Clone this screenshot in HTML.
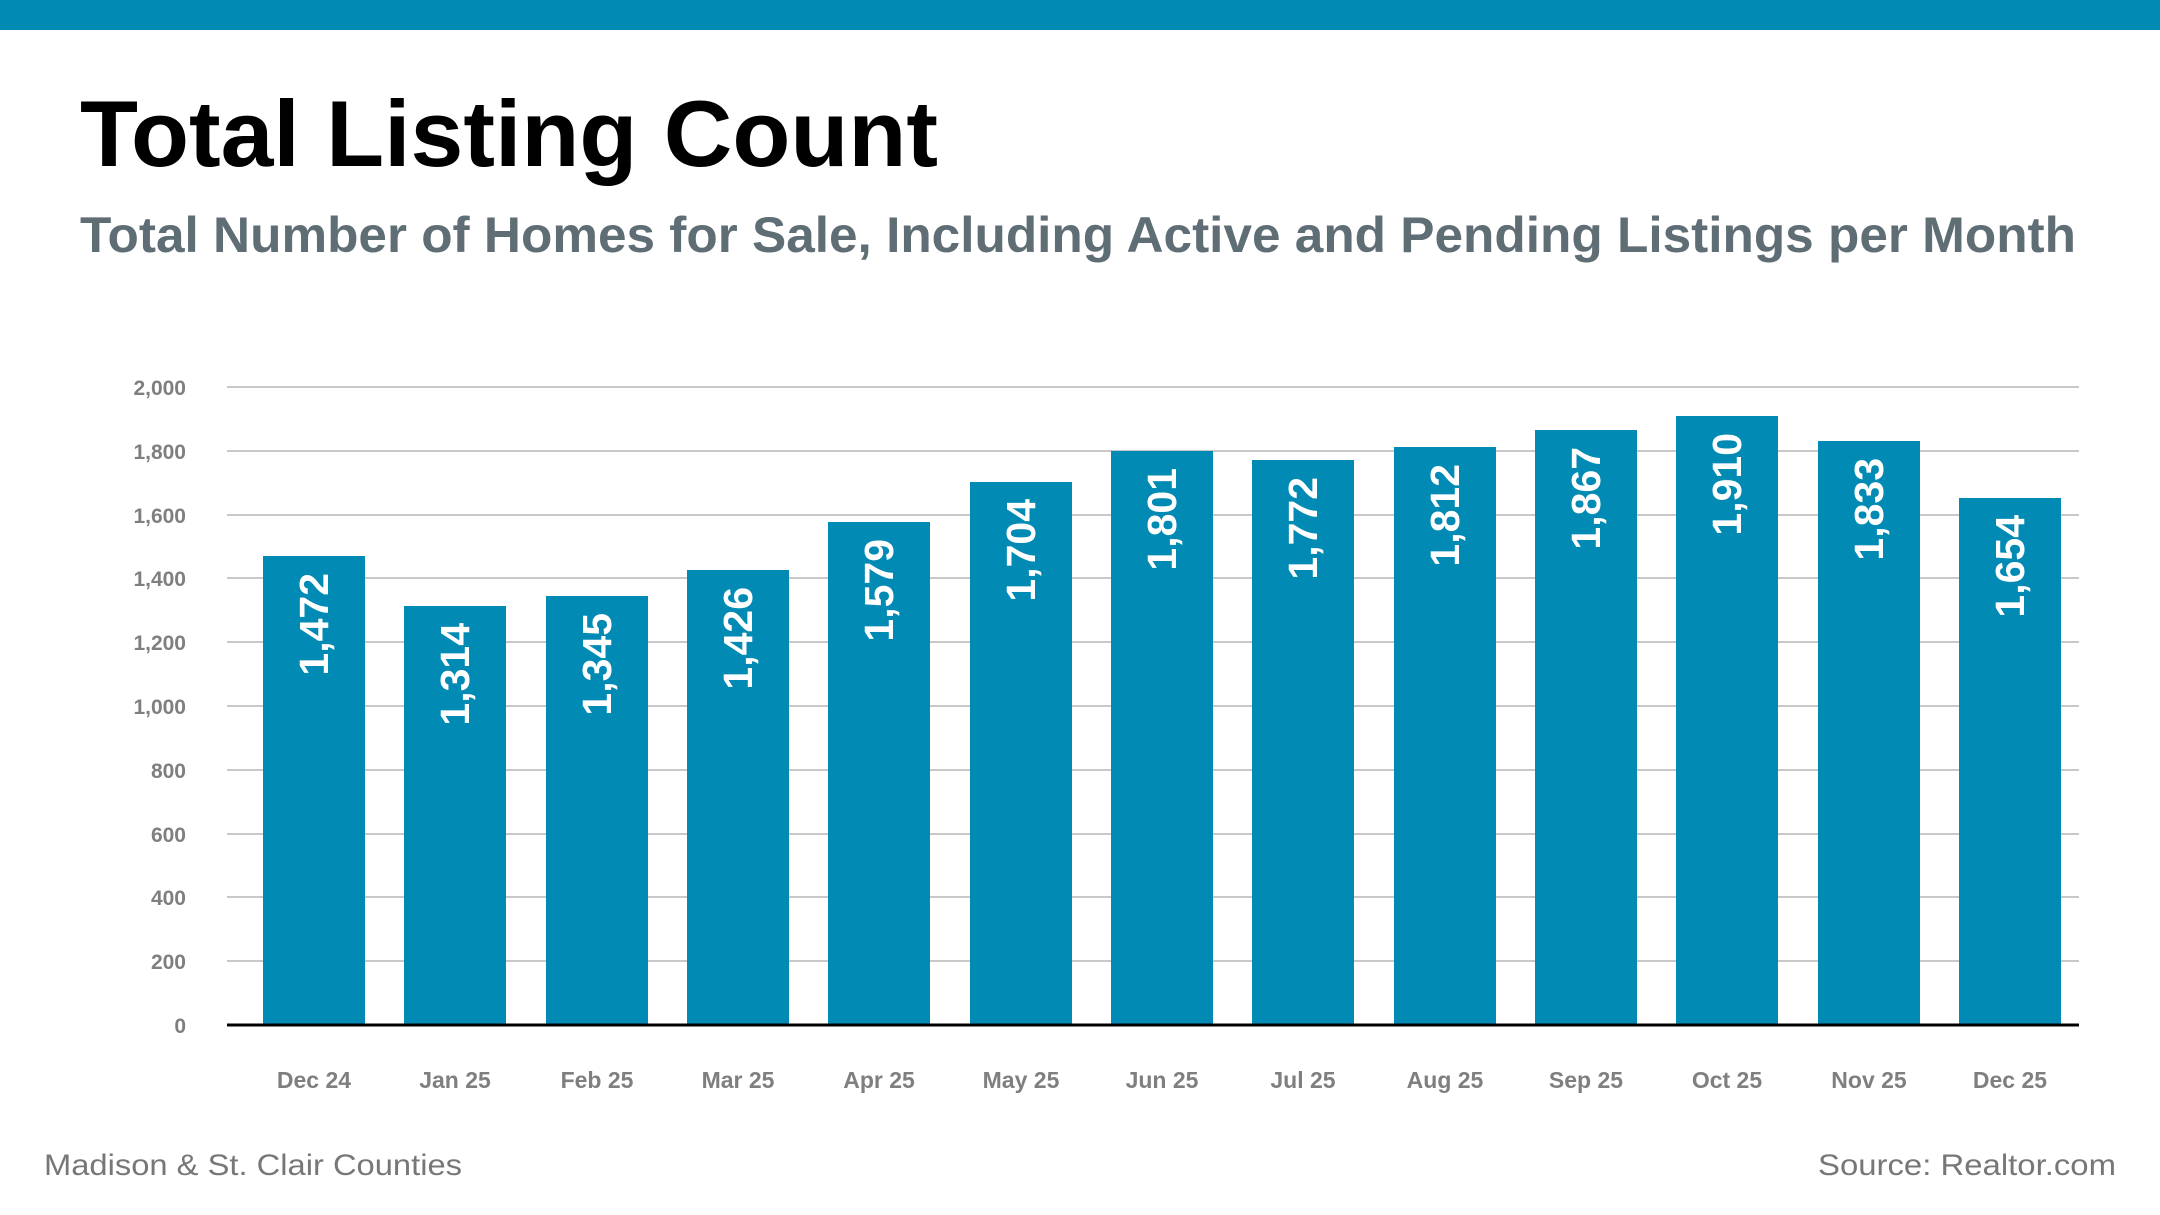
<!DOCTYPE html>
<html><head><meta charset="utf-8"><style>
html,body{margin:0;padding:0;background:#fff;}
svg{display:block;}
</style></head><body>
<svg width="2160" height="1215" viewBox="0 0 2160 1215" xmlns="http://www.w3.org/2000/svg" font-family="Liberation Sans, sans-serif">
<rect x="0" y="0" width="2160" height="30" fill="#008ab4"/>
<text x="80" y="166" font-size="94" font-weight="bold" fill="#000" textLength="858" lengthAdjust="spacingAndGlyphs">Total Listing Count</text>
<text x="80" y="252" font-size="50" font-weight="bold" fill="#5f6d75" textLength="1996" lengthAdjust="spacingAndGlyphs">Total Number of Homes for Sale, Including Active and Pending Listings per Month</text>
<g stroke="#c8c8c8" stroke-width="2">
<line x1="227" x2="2079" y1="387" y2="387"/><line x1="227" x2="2079" y1="451" y2="451"/>
<line x1="227" x2="2079" y1="515" y2="515"/><line x1="227" x2="2079" y1="578" y2="578"/>
<line x1="227" x2="2079" y1="642" y2="642"/><line x1="227" x2="2079" y1="706" y2="706"/>
<line x1="227" x2="2079" y1="770" y2="770"/><line x1="227" x2="2079" y1="834" y2="834"/>
<line x1="227" x2="2079" y1="897" y2="897"/><line x1="227" x2="2079" y1="961" y2="961"/>
</g>
<g font-size="21" font-weight="bold" fill="#7f7f7f" text-anchor="end">
<text x="186" y="395">2,000</text><text x="186" y="459">1,800</text><text x="186" y="523">1,600</text>
<text x="186" y="586">1,400</text><text x="186" y="650">1,200</text><text x="186" y="714">1,000</text>
<text x="186" y="778">800</text><text x="186" y="842">600</text><text x="186" y="905">400</text>
<text x="186" y="969">200</text><text x="186" y="1033">0</text>
</g>
<g fill="#008ab4">
<rect x="263" y="556" width="102" height="469"/>
<rect x="404" y="606" width="102" height="419"/>
<rect x="546" y="596" width="102" height="429"/>
<rect x="687" y="570" width="102" height="455"/>
<rect x="828" y="522" width="102" height="503"/>
<rect x="970" y="482" width="102" height="543"/>
<rect x="1111" y="451" width="102" height="574"/>
<rect x="1252" y="460" width="102" height="565"/>
<rect x="1394" y="447" width="102" height="578"/>
<rect x="1535" y="430" width="102" height="595"/>
<rect x="1676" y="416" width="102" height="609"/>
<rect x="1818" y="441" width="102" height="584"/>
<rect x="1959" y="498" width="102" height="527"/>
</g>
<line x1="227" x2="2079" y1="1025" y2="1025" stroke="#000" stroke-width="3"/>
<g font-size="41" font-weight="bold" fill="#fff" text-anchor="end">
<text transform="translate(328,573) rotate(-90)">1,472</text>
<text transform="translate(469,623) rotate(-90)">1,314</text>
<text transform="translate(611,613) rotate(-90)">1,345</text>
<text transform="translate(752,587) rotate(-90)">1,426</text>
<text transform="translate(893,539) rotate(-90)">1,579</text>
<text transform="translate(1035,499) rotate(-90)">1,704</text>
<text transform="translate(1176,468) rotate(-90)">1,801</text>
<text transform="translate(1317,477) rotate(-90)">1,772</text>
<text transform="translate(1459,464) rotate(-90)">1,812</text>
<text transform="translate(1600,447) rotate(-90)">1,867</text>
<text transform="translate(1741,433) rotate(-90)">1,910</text>
<text transform="translate(1883,458) rotate(-90)">1,833</text>
<text transform="translate(2024,515) rotate(-90)">1,654</text>
</g>
<g font-size="23" font-weight="bold" fill="#7f7f7f" text-anchor="middle">
<text x="314" y="1088">Dec 24</text><text x="455" y="1088">Jan 25</text><text x="597" y="1088">Feb 25</text>
<text x="738" y="1088">Mar 25</text><text x="879" y="1088">Apr 25</text><text x="1021" y="1088">May 25</text>
<text x="1162" y="1088">Jun 25</text><text x="1303" y="1088">Jul 25</text><text x="1445" y="1088">Aug 25</text>
<text x="1586" y="1088">Sep 25</text><text x="1727" y="1088">Oct 25</text><text x="1869" y="1088">Nov 25</text>
<text x="2010" y="1088">Dec 25</text>
</g>
<text x="44" y="1175" font-size="30" fill="#777" textLength="418" lengthAdjust="spacingAndGlyphs">Madison &amp; St. Clair Counties</text>
<text x="1818" y="1175" font-size="30" fill="#777" textLength="298" lengthAdjust="spacingAndGlyphs">Source: Realtor.com</text>
</svg>
</body></html>
